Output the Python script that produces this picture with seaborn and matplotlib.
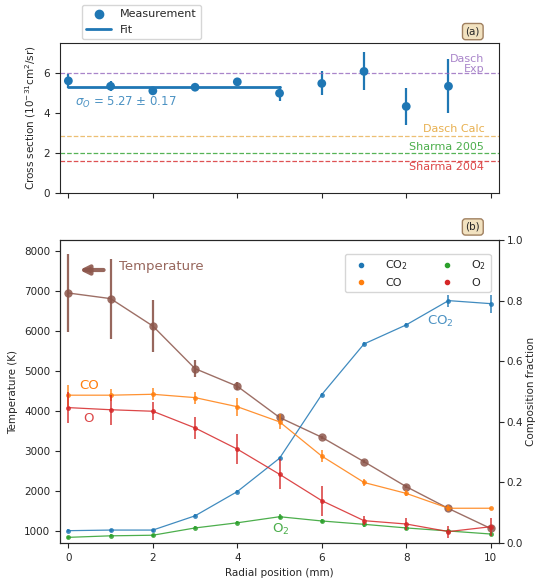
import numpy as np
import matplotlib
matplotlib.use("Agg")
import matplotlib.pyplot as plt
import seaborn as sns

# panel (a): cross section measurements
xs_pos = [0, 1, 2, 3, 4, 5, 6, 7, 8, 9]
xs_val = [5.6, 5.33, 5.1, 5.28, 5.55, 4.98, 5.47, 6.07, 4.32, 5.33]
xs_err = [0.35, 0.25, 0.15, 0.1, 0.2, 0.37, 0.6, 0.95, 0.93, 1.36]
fit_val = 5.27
fit_err = 0.17
fit_range = [0, 5]
ref_names = ["Dasch\nExp", "Dasch Calc", "Sharma 2005", "Sharma 2004"]
ref_vals = [6.0, 2.85, 2.0, 1.6]

# panel (b): temperature and composition
r_pos = [0, 1, 2, 3, 4, 5, 6, 7, 8, 9, 10]
temp = [6950, 6810, 6125, 5060, 4620, 3840, 3345, 2735, 2110, 1565, 1065]
temp_err = [970, 1000, 650, 220, 100, 60, 40, 40, 40, 40, 40]
co2 = [0.041, 0.043, 0.043, 0.09, 0.17, 0.28, 0.49, 0.657, 0.72, 0.80, 0.79]
co2_err = [0.005, 0.005, 0.005, 0.005, 0.005, 0.005, 0.005, 0.005, 0.005, 0.02, 0.03]
co = [0.488, 0.488, 0.491, 0.48, 0.45, 0.40, 0.287, 0.20, 0.164, 0.115, 0.115]
co_err = [0.035, 0.02, 0.02, 0.02, 0.03, 0.025, 0.02, 0.01, 0.01, 0.01, 0.0]
o2 = [0.019, 0.024, 0.026, 0.05, 0.067, 0.087, 0.073, 0.062, 0.05, 0.04, 0.03]
o2_err = [0.005, 0.005, 0.005, 0.005, 0.005, 0.008, 0.008, 0.008, 0.008, 0.008, 0.008]
o = [0.447, 0.44, 0.435, 0.38, 0.31, 0.227, 0.14, 0.074, 0.063, 0.038, 0.054]
o_err = [0.05, 0.05, 0.03, 0.035, 0.05, 0.05, 0.05, 0.015, 0.02, 0.02, 0.03]

sns.set_style("ticks")
plt.rcParams["font.family"] = ["DejaVu Sans"]
plt.rcParams["xtick.labelsize"] = 7.5
plt.rcParams["ytick.labelsize"] = 7.5
plt.rcParams["axes.labelsize"] = 7.5

blue, orange, green, red, purple, brown = sns.color_palette("tab10")[:6]
calc_col = "#e8b050"

fig = plt.figure(figsize=(5.35, 5.79), dpi=100)
ax_a = fig.add_axes([0.112, 0.667, 0.821, 0.259])
ax_b = fig.add_axes([0.112, 0.062, 0.821, 0.5235])
ax_c = ax_b.twinx()

# ---- (a)
ax_a.errorbar(xs_pos, xs_val, yerr=xs_err, fmt="none", ecolor=blue, elinewidth=1.6)
sns.scatterplot(x=xs_pos, y=xs_val, color=blue, s=40, edgecolor="none", ax=ax_a, zorder=3)
sns.lineplot(x=fit_range, y=[fit_val, fit_val], color=blue, linewidth=2, ax=ax_a)
ref_colors = [purple, calc_col, green, red]
for v, c in zip(ref_vals, ref_colors):
    ax_a.axhline(v, color=c, linestyle="--", linewidth=0.9, alpha=0.8)
ax_a.text(9.85, 6.45, ref_names[0], color=purple, ha="right", va="center",
          fontsize=8, alpha=0.8, linespacing=1.05, multialignment="right")
ax_a.text(9.85, 2.95, ref_names[1], color=calc_col, ha="right", va="bottom", fontsize=8)
ax_a.text(9.85, 2.03, ref_names[2], color=green, ha="right", va="bottom", fontsize=8, alpha=0.85)
ax_a.text(9.85, 1.55, ref_names[3], color=red, ha="right", va="top", fontsize=8, alpha=0.85)
ax_a.text(0.15, 4.5, r"$\sigma_O$ = %.2f $\pm$ %.2f" % (fit_val, fit_err), color=blue,
          fontsize=8.5, va="center", alpha=0.8)
ax_a.set_xlim(-0.2, 10.2)
ax_a.set_ylim(0, 7.5)
ax_a.set_xticks([0, 2, 4, 6, 8, 10])
ax_a.set_xticklabels([])
ax_a.set_yticks([0, 2, 4, 6])
ax_a.set_ylabel(r"Cross section (10$^{-31}$cm$^2$/sr)")
ax_a.text(0.94, 1.075, "(a)", transform=ax_a.transAxes, ha="center", va="center", fontsize=7.5,
          bbox=dict(boxstyle="round,pad=0.3", facecolor="#f2e2c0", edgecolor="#a08060"))

h_meas = plt.Line2D([], [], marker="o", color=blue, linestyle="none", markersize=6)
h_fit = plt.Line2D([], [], color=blue, linewidth=2)
fig.legend([h_meas, h_fit], ["Measurement", "Fit"], loc="upper left",
           bbox_to_anchor=(82 / 535, 1 - 5 / 579), fontsize=8, frameon=True,
           borderaxespad=0, handlelength=2.2)

# ---- (b)
ax_b.errorbar(r_pos, temp, yerr=temp_err, fmt="none", ecolor=brown, elinewidth=1.6, alpha=0.9)
sns.lineplot(x=r_pos, y=temp, color=brown, marker="o", markersize=6, markeredgewidth=0,
             linewidth=1, alpha=0.85, ax=ax_b)

series = [("CO$_2$", co2, co2_err, blue), ("CO", co, co_err, orange),
          ("O$_2$", o2, o2_err, green), ("O", o, o_err, red)]
handles = []
for name, vals, err, c in series:
    ax_c.errorbar(r_pos, vals, yerr=err, fmt="none", ecolor=c, elinewidth=1.2, alpha=0.85)
    sns.lineplot(x=r_pos, y=vals, color=c, marker="o", markersize=3.5, markeredgewidth=0,
                 linewidth=0.9, alpha=0.85, ax=ax_c)
    handles.append(plt.Line2D([], [], marker="o", color=c, linestyle="none", markersize=3))

ax_c.legend(handles, [s[0] for s in series], ncol=2, loc="upper left",
            bbox_to_anchor=(345 / 535, 1 - 254 / 579), bbox_transform=fig.transFigure,
            fontsize=8, borderaxespad=0, columnspacing=2.5, handletextpad=1.2)

ax_b.annotate("", xy=(0.2, 7525), xytext=(0.9, 7525),
              arrowprops=dict(arrowstyle="-|>", color=brown, lw=3, mutation_scale=13, alpha=0.9))
ax_b.text(1.2, 7625, "Temperature", color=brown, fontsize=9.5, va="center", alpha=0.9)
ax_c.text(0.5, 0.52, "CO", color=orange, fontsize=9.5, ha="center", va="center")
ax_c.text(0.47, 0.41, "O", color=red, fontsize=9.5, ha="center", va="center", alpha=0.85)
ax_c.text(8.8, 0.73, "CO$_2$", color=blue, fontsize=9.5, ha="center", va="center", alpha=0.8)
ax_c.text(5.02, 0.045, "O$_2$", color=green, fontsize=9.5, ha="center", va="center", alpha=0.85)

ax_b.set_xlim(-0.2, 10.2)
ax_b.set_ylim(700, 8275)
ax_b.set_xticks([0, 2, 4, 6, 8, 10])
ax_b.set_yticks(range(1000, 8001, 1000))
ax_b.set_xlabel("Radial position (mm)")
ax_b.set_ylabel("Temperature (K)")
ax_c.set_ylim(0, 1)
ax_c.set_yticks([0, 0.2, 0.4, 0.6, 0.8, 1.0])
ax_c.tick_params(axis="y", pad=2)
ax_c.set_ylabel("Composition fraction", labelpad=2)
ax_b.text(0.94, 1.043, "(b)", transform=ax_b.transAxes, ha="center", va="center", fontsize=7.5,
          bbox=dict(boxstyle="round,pad=0.3", facecolor="#f2e2c0", edgecolor="#a08060"))

for ax in (ax_a, ax_b, ax_c):
    for sp in ax.spines.values():
        sp.set_visible(True)
        sp.set_linewidth(0.8)

fig.savefig("out.png", dpi=100)
